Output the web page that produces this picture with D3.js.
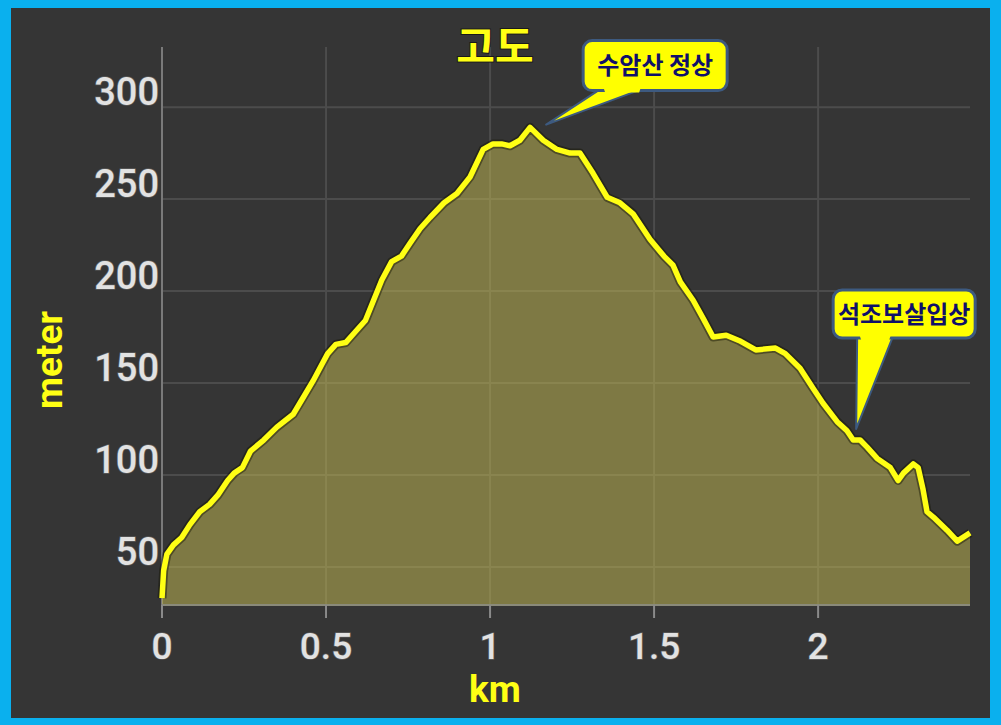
<!DOCTYPE html>
<html>
<head>
<meta charset="utf-8">
<script src="https://cdn.jsdelivr.net/npm/d3@7"></script>
<style>
  html, body { margin: 0; padding: 0; background: #0ab0ee; }
  svg { display: block; }
</style>
</head>
<body>
<svg id="chart" width="1001" height="725"></svg>
<script>
// elevation profile
const distKm = [0, 0.005, 0.015, 0.035, 0.06, 0.085, 0.115, 0.145, 0.17, 0.2, 0.22, 0.245, 0.27, 0.31, 0.35, 0.4,
  0.43, 0.46, 0.49, 0.505, 0.53, 0.56, 0.59, 0.62, 0.645, 0.67, 0.7, 0.73, 0.756, 0.787, 0.817, 0.86, 0.899, 0.939,
  0.979, 1.009, 1.035, 1.061, 1.091, 1.122, 1.162, 1.204, 1.244, 1.274, 1.314, 1.357, 1.396, 1.436, 1.488, 1.53,
  1.558, 1.58, 1.619, 1.65, 1.68, 1.72, 1.76, 1.81, 1.87, 1.9, 1.945, 1.985, 2.015, 2.058, 2.088, 2.107, 2.128,
  2.15, 2.18, 2.22, 2.244, 2.26, 2.29, 2.305, 2.32, 2.332, 2.352, 2.393, 2.424, 2.463];
const elevM = [33, 48, 57, 62, 66, 73, 80, 84, 89, 97, 101, 104, 113, 119, 126, 133,
  142, 151, 161, 166, 171, 172, 178, 184, 195, 206, 216, 219, 226, 234, 240, 248, 253, 262,
  277, 280, 280, 279, 282, 289, 282, 277, 275, 275, 264, 251, 248, 242, 228, 219,
  214, 205, 195, 185, 175, 176, 173, 168, 169, 166, 158, 147, 139, 129, 124, 119, 119,
  115, 109, 104, 97, 101, 106, 104, 92, 80, 77, 70, 64, 68.5];

const xTicks = [0, 0.5, 1, 1.5, 2];
const yTicks = [50, 100, 150, 200, 250, 300];

const noteLabels = ["수암산 정상", "석조보살입상"];
const noteKm = [1.171, 2.116];
const noteM = [290.5, 125];

const svg = d3.select("#chart");

// dark panel inside the blue frame
svg.append("rect")
  .attr("x", 11).attr("y", 8)
  .attr("width", 979).attr("height", 710)
  .attr("fill", "#353535");

const x = d3.scaleLinear().domain([0, 2.463]).range([162, 970]);
const y = d3.scaleLinear().domain([29.3, 332.7]).range([605, 47]);

const data = distKm.map((d, i) => ({ km: d, m: elevM[i] }));

// grid
const grid = svg.append("g");
grid.selectAll(".hgrid")
  .data(yTicks)
  .enter().append("line")
  .attr("x1", x(0)).attr("x2", x.range()[1])
  .attr("y1", d => y(d)).attr("y2", d => y(d))
  .attr("stroke", "#4c4c4c").attr("stroke-width", 2);
grid.selectAll(".vgrid")
  .data(xTicks)
  .enter().append("line")
  .attr("x1", d => x(d)).attr("x2", d => x(d))
  .attr("y1", y.range()[1]).attr("y2", y.range()[0])
  .attr("stroke", d => d === 0 ? "#7a7a7a" : "#4c4c4c").attr("stroke-width", 2);

// area + line
svg.append("path")
  .datum(data)
  .attr("fill", "rgba(194,184,82,0.52)")
  .attr("d", d3.area().x(d => x(d.km)).y0(y.range()[0]).y1(d => y(d.m)));

const line = d3.line().x(d => x(d.km)).y(d => y(d.m));
svg.append("path")
  .datum(data)
  .attr("fill", "none")
  .attr("stroke", "rgba(20,20,0,0.45)")
  .attr("stroke-width", 9)
  .attr("stroke-linejoin", "round")
  .attr("d", line);
svg.append("path")
  .datum(data)
  .attr("fill", "none")
  .attr("stroke", "#ffff14")
  .attr("stroke-width", 5.5)
  .attr("stroke-linejoin", "round")
  .attr("d", line);

// x axis line and ticks
svg.append("line")
  .attr("x1", x(0)).attr("x2", x.range()[1])
  .attr("y1", y.range()[0]).attr("y2", y.range()[0])
  .attr("stroke", "#8a8a7a").attr("stroke-width", 2);
svg.selectAll(".xtick")
  .data(xTicks)
  .enter().append("line")
  .attr("x1", d => x(d)).attr("x2", d => x(d))
  .attr("y1", y.range()[0]).attr("y2", y.range()[0] + 13)
  .attr("stroke", "#8a8a8a").attr("stroke-width", 2);

const tickFont = "Roboto, 'DejaVu Sans', sans-serif";
svg.selectAll(".xlab")
  .data(xTicks)
  .enter().append("text")
  .attr("x", d => x(d))
  .attr("y", 659)
  .attr("text-anchor", "middle")
  .attr("font-family", tickFont)
  .attr("font-size", 37)
  .attr("font-weight", 500)
  .attr("fill", "#e2e2e2")
  .attr("stroke", "#5a5a5a").attr("stroke-width", 1.5).attr("paint-order", "stroke")
  .text(d => d);

svg.selectAll(".ylab")
  .data(yTicks)
  .enter().append("text")
  .attr("x", 159)
  .attr("y", d => y(d) - 2)
  .attr("text-anchor", "end")
  .attr("font-family", tickFont)
  .attr("font-size", 38)
  .attr("font-weight", 500)
  .attr("fill", "#e2e2e2")
  .attr("stroke", "#5a5a5a").attr("stroke-width", 1.5).attr("paint-order", "stroke")
  .text(d => d);

// axis titles
svg.append("text")
  .attr("transform", "translate(62,360) rotate(-90)")
  .attr("text-anchor", "middle")
  .attr("font-family", tickFont)
  .attr("font-size", 37)
  .attr("font-weight", 700)
  .attr("fill", "#ffff14")
  .text("meter");

svg.append("text")
  .attr("x", 495).attr("y", 702)
  .attr("text-anchor", "middle")
  .attr("font-family", tickFont)
  .attr("font-size", 37)
  .attr("font-weight", 700)
  .attr("fill", "#ffff14")
  .text("km");

svg.append("text")
  .attr("x", 495).attr("y", 62)
  .attr("text-anchor", "middle")
  .attr("font-family", "'Noto Sans CJK KR', sans-serif")
  .attr("font-size", 42)
  .attr("font-weight", 700)
  .attr("fill", "#ffff14")
  .attr("stroke", "#1a1a1a").attr("stroke-width", 2).attr("paint-order", "stroke")
  .text("고도");

// callouts: box offset from tip, size, tail base
const boxes = [
  { dx: 37, dy: -84, w: 144, h: 50, fs: 24, t0: 18, t1: 60 },
  { dx: -23, dy: -139, w: 142, h: 48, fs: 24, t0: 24, t1: 60 }
];

noteLabels.forEach((lab, i) => {
  const tx = x(noteKm[i]), ty = y(noteM[i]);
  const b = boxes[i];
  const bx = tx + b.dx, by = ty + b.dy;
  const g = svg.append("g");
  g.append("path")
    .attr("d", "M" + (bx + b.t0) + "," + (by + b.h - 2) + " L" + tx + "," + ty + " L" + (bx + b.t1) + "," + (by + b.h - 2) + "Z")
    .attr("fill", "#ffff00")
    .attr("stroke", "#3d5a80").attr("stroke-width", 2).attr("stroke-linejoin", "round");
  g.append("rect")
    .attr("x", bx).attr("y", by)
    .attr("width", b.w).attr("height", b.h)
    .attr("rx", 9)
    .attr("fill", "#ffff00")
    .attr("stroke", "#3d5a80").attr("stroke-width", 3);
  // cover the seam between tail and box
  g.append("path")
    .attr("d", "M" + (bx + b.t0 + 2) + "," + (by + b.h - 4) + " L" + (bx + b.t1 - 2) + "," + (by + b.h - 4) + " L" + (bx + b.t1 - 4) + "," + (by + b.h + 2) + " L" + (bx + b.t0 + 4) + "," + (by + b.h + 2) + "Z")
    .attr("fill", "#ffff00");
  g.append("text")
    .attr("x", bx + b.w / 2)
    .attr("y", by + b.h / 2 + b.fs * 0.36)
    .attr("text-anchor", "middle")
    .attr("font-family", "'Noto Sans CJK KR', sans-serif")
    .attr("font-size", b.fs)
    .attr("font-weight", 700)
    .attr("fill", "#10106a")
    .text(lab);
});
</script>
</body>
</html>
